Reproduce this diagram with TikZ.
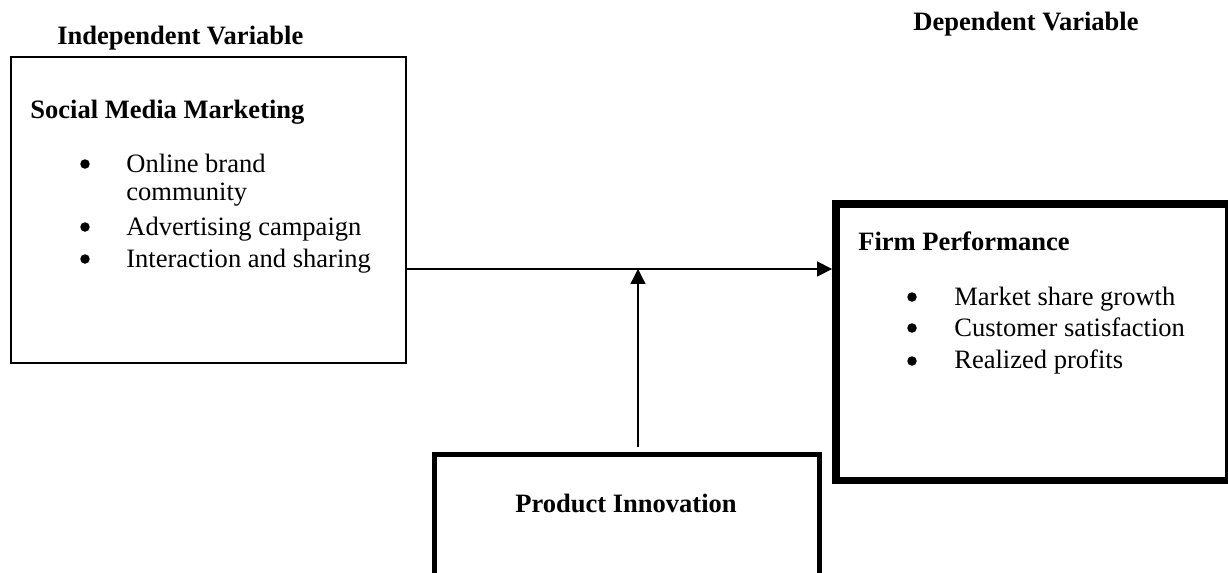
\documentclass[tikz,border=0pt]{standalone}
\usepackage{fontspec}
\setmainfont{Liberation Serif}
\usepackage{tikz}
\usetikzlibrary{arrows.meta, positioning, calc}
\newcommand{\bodysize}{\fontsize{15.1}{17.6}\selectfont}
\tikzset{
    varbox/.style={rectangle, draw=black, line width=1.1pt, minimum width=7.91cm, minimum height=6.13cm},
    outbox/.style={rectangle, draw=black, line width=4.5pt, minimum width=7.86cm, minimum height=5.53cm},
    modbox/.style={rectangle, draw=black, line width=2.8pt, minimum width=7.71cm, minimum height=3.31cm},
    heading/.style={anchor=base west, inner sep=0pt, font=\bodysize\bfseries},
    item/.style={anchor=base west, inner sep=0pt},
    dot/.style={circle, fill=black, inner sep=0pt, minimum size=0.19cm},
    arrow/.style={-{Triangle[length=8.5pt, width=8.5pt]}, line width=0.8pt},
}

\begin{document}
\begin{tikzpicture}[
        x=0.02cm, y=-0.02cm,
        font=\bodysize
    ]
        \useasboundingbox (0,0) rectangle (1228,572);
        \clip (0,0) rectangle (1228,572);

        % column titles
        \node[heading] (indep) at (57,44) {Independent Variable};
        \node[heading] (dep) at (913,30) {Dependent Variable};

        % the three boxes
        \node[varbox] (smm) at (208.25,209.75) {};
        \node[outbox] (fp) at (1032.5,342.25) {};
        \node[modbox] (pi) at (626.75,537.25) {};

        % Social Media Marketing
        \node[heading] (smmtitle) at (30,118) {Social Media Marketing};
        \node[dot] (smmdot1) at (85,164) {};
        \node[item] (smmitem1) at (126,172) {Online brand};
        \node[item] (smmitem1b) at (126,200) {community};
        \node[dot] (smmdot2) at (85,227) {};
        \node[item] (smmitem2) at (126,235) {Advertising campaign};
        \node[dot] (smmdot3) at (85,259) {};
        \node[item] (smmitem3) at (126,267) {Interaction and sharing};

        % Firm Performance
        \node[heading] (fptitle) at (858,250) {Firm Performance};
        \node[dot] (fpdot1) at (912,297) {};
        \node[item] (fpitem1) at (954,305) {Market share growth};
        \node[dot] (fpdot2) at (912,328) {};
        \node[item] (fpitem2) at (954,336) {Customer satisfaction};
        \node[dot] (fpdot3) at (912,361) {};
        \node[item] (fpitem3) at (954,368) {Realized profits};

        % Product Innovation
        \node[anchor=base, inner sep=0pt, font=\bodysize\bfseries] (pititle) at (626,512) {Product Innovation};

        % links
        \coordinate (join) at (638,269);
        \draw[arrow] (smm.east |- join) -- (fp.west |- join);
        \draw[arrow, shorten <=0.1cm] (pi.north -| join) -- (join);
    \end{tikzpicture}
\end{document}
